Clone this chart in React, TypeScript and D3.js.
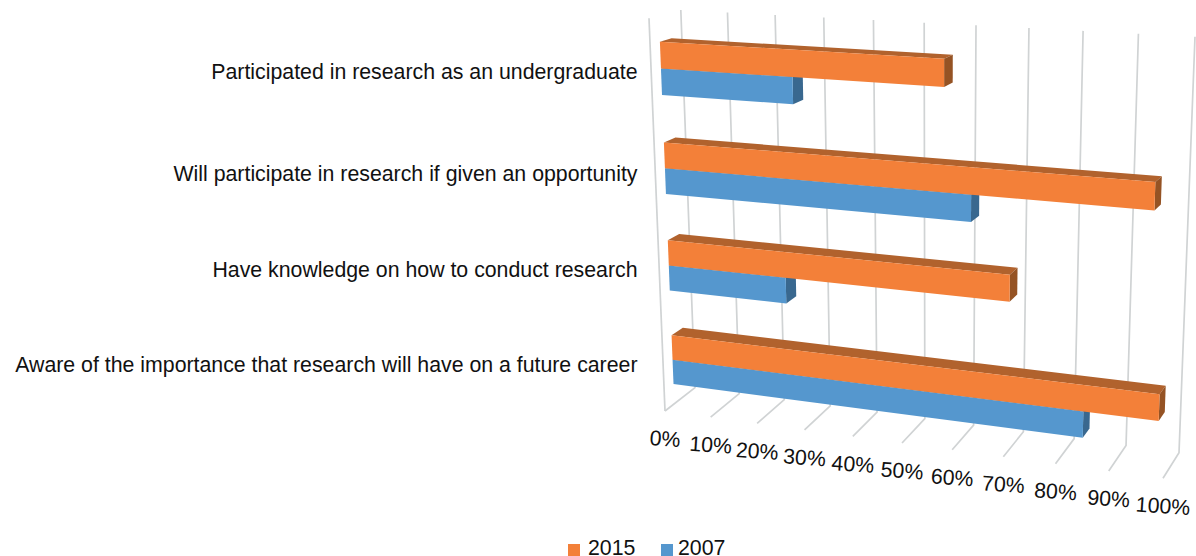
import React from "react";
import * as d3 from "d3";

const categories = [
  "Participated in research as an undergraduate",
  "Will participate in research if given an opportunity",
  "Have knowledge on how to conduct research",
  "Aware of the importance that research will have on a future career",
];
const values2015 = [57, 96, 69.7, 98];
const values2007 = [27.3, 62.2, 25, 84];
const tickValues = [0, 10, 20, 30, 40, 50, 60, 70, 80, 90, 100];
const legendItems = ["2015", "2007"];
const labelY = [72, 174, 270, 365];

type P = [number, number];
// box corners of the projected 3D frame
const BACK: P[] = [[680.8, 10], [1195, 36.7], [1179, 452.7], [695, 387.7]];
const FRONT: P[] = [[649, 18.3], [1177.5, 47.7], [1163, 478.3], [665, 411]];
const D_FRONT = 0.69;
const D_BACK = 0.32;

function quadMap(q: P[]) {
  const [[x0, y0], [x1, y1], [x2, y2], [x3, y3]] = q;
  const dx1 = x1 - x2, dx2 = x3 - x2, sx = x0 - x1 + x2 - x3;
  const dy1 = y1 - y2, dy2 = y3 - y2, sy = y0 - y1 + y2 - y3;
  const det = dx1 * dy2 - dx2 * dy1;
  const g = (sx * dy2 - dx2 * sy) / det;
  const h = (dx1 * sy - sx * dy1) / det;
  const a = x1 - x0 + g * x1, b = x3 - x0 + h * x3;
  const d = y1 - y0 + g * y1, e = y3 - y0 + h * y3;
  return (u: number, v: number): P => {
    const w = g * u + h * v + 1;
    return [(a * u + b * v + x0) / w, (d * u + e * v + y0) / w];
  };
}

const project = (value: number, hh: number, depth: number): P => {
  const q = BACK.map((p, i) => [
    p[0] + (FRONT[i][0] - p[0]) * depth,
    p[1] + (FRONT[i][1] - p[1]) * depth,
  ]) as P[];
  return quadMap(q)(value, hh);
};

const xScale = d3.scaleLinear().domain([0, 100]).range([0, 1]);
const band = d3.scaleBand<string>().domain(categories).range([0.0635, 0.9465]).paddingInner(0.475).paddingOuter(0);
const line = d3.line<P>();
const poly = (pts: P[]) => line(pts)! + "Z";

const GRID = "#d0d3d4";
const FONT = "'Liberation Sans', Arial, sans-serif";
const FS = 21.3;

function Bar({ v, h0, h1, front, top, side }: { v: number; h0: number; h1: number; front: string; top: string; side: string }) {
  const x = xScale(v);
  const fTL = project(0, h0, D_FRONT), fTR = project(x, h0, D_FRONT), fBR = project(x, h1, D_FRONT), fBL = project(0, h1, D_FRONT);
  const bTL = project(0, h0, D_BACK), bTR = project(x, h0, D_BACK), bBR = project(x, h1, D_BACK);
  return (
    <g>
      <path d={poly([fTL, bTL, bTR, fTR])} fill={top} />
      <path d={poly([fTR, bTR, bBR, fBR])} fill={side} />
      <path d={poly([fTL, fTR, fBR, fBL])} fill={front} />
    </g>
  );
}

export default function App() {
  return (
    <svg width={1196} height={556} style={{ position: "absolute", left: 0, top: 0, background: "#fff" }} fontFamily={FONT}>
      <path d={line([project(0, 0, 1), project(0, 1, 1)])!} stroke={GRID} strokeWidth={1.7} fill="none" />
      {tickValues.map((t) => (
        <g key={t}>
          <path d={line([project(xScale(t), 0, 0), project(xScale(t), 1, 0), project(xScale(t), 1, 1)])!} stroke={GRID} strokeWidth={1.7} fill="none" />
        </g>
      ))}
      {categories.map((c, i) => {
        const h0 = band(c)!;
        const bw = band.bandwidth();
        return (
          <g key={c}>
            <Bar v={values2007[i]} h0={h0 + bw / 2} h1={h0 + bw} front="#5597CE" top="#3F7199" side="#39688F" />
            <Bar v={values2015[i]} h0={h0} h1={h0 + bw / 2} front="#F38039" top="#B1622D" side="#955324" />
            <text x={637.5} y={labelY[i]} textAnchor="end" dominantBaseline="central" fontSize={FS} fill="#111">{c}</text>
          </g>
        );
      })}
      {tickValues.map((t) => {
        const [px, py] = project(xScale(t), 1, 1);
        return (
          <text key={t} transform={`translate(${px},${py + 28}) rotate(4)`} textAnchor="middle" dominantBaseline="central" fontSize={FS} fill="#111">{t}%</text>
        );
      })}
      {legendItems.map((name, i) => (
        <g key={name}>
          <rect x={i === 0 ? 568 : 661} y={544} width={12} height={12} fill={i === 0 ? "#F38039" : "#5597CE"} />
          <text x={i === 0 ? 588 : 678} y={555} fontSize={FS} fill="#111">{name}</text>
        </g>
      ))}
    </svg>
  );
}
